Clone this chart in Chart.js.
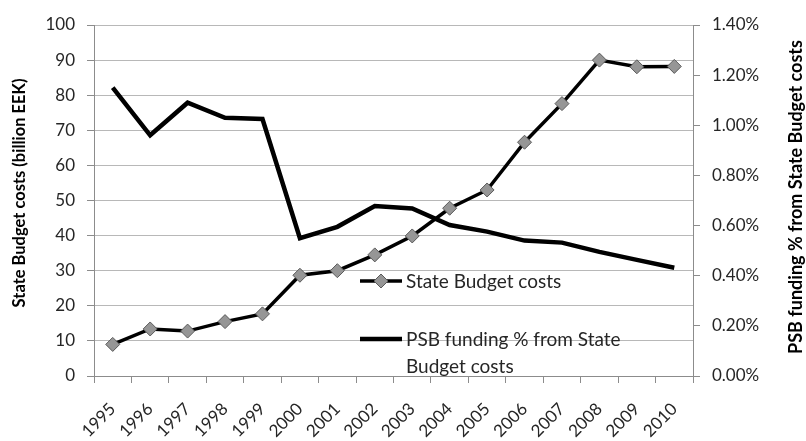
<!DOCTYPE html>
<html>
<head>
<meta charset="utf-8">
<script src="https://cdn.jsdelivr.net/npm/chart.js@4.4.1/dist/chart.umd.min.js"></script>
<style>
  html, body { margin: 0; padding: 0; background: #fff; }
  #wrap { width: 806px; height: 441px; }
</style>
</head>
<body>
<div id="wrap"><canvas id="chart" width="806" height="441"></canvas></div>
<script>
// data
const years = ["1995", "1996", "1997", "1998", "1999", "2000", "2001", "2002",
               "2003", "2004", "2005", "2006", "2007", "2008", "2009", "2010"];
const budgetCosts = [9.0, 13.4, 12.8, 15.5, 17.7, 28.7, 30.0, 34.5,
                     39.9, 47.8, 53.0, 66.6, 77.6, 90.0, 88.1, 88.2];
const psbShare = [1.15, 0.96, 1.09, 1.03, 1.025, 0.55, 0.595, 0.678,
                  0.668, 0.602, 0.576, 0.540, 0.532, 0.495, 0.463, 0.432];
const leftTicks = { min: 0, max: 100, step: 10 };
const rightTicks = { min: 0, max: 1.4, step: 0.2 };

const FONT = "Lato";
const textCol = "#262626";

// legend + axis titles drawn by hand (wrapped label, bottom-to-top right title)
const legendPlugin = {
  id: "handLegend",
  afterDatasetsDraw(chart) {
    const ctx = chart.ctx;
    ctx.save();
    ctx.font = "19px " + FONT;
    ctx.fillStyle = textCol;
    ctx.textBaseline = "middle";
    ctx.textAlign = "left";

    // State Budget costs
    ctx.strokeStyle = "#000";
    ctx.lineWidth = 3.5;
    ctx.beginPath(); ctx.moveTo(360, 281); ctx.lineTo(402, 281); ctx.stroke();
    ctx.beginPath();
    ctx.moveTo(381, 274); ctx.lineTo(388, 281); ctx.lineTo(381, 288); ctx.lineTo(374, 281);
    ctx.closePath();
    ctx.fillStyle = "#969696"; ctx.fill();
    ctx.lineWidth = 1; ctx.strokeStyle = "#5a5a5a"; ctx.stroke();
    ctx.fillStyle = textCol;
    ctx.fillText("State Budget costs", 406, 282);

    // PSB funding
    ctx.strokeStyle = "#000";
    ctx.lineWidth = 4.5;
    ctx.beginPath(); ctx.moveTo(360, 339); ctx.lineTo(402, 339); ctx.stroke();
    ctx.fillText("PSB funding % from State", 406, 340);
    ctx.fillText("Budget costs", 406, 367);
    ctx.restore();

    // axis titles, both read bottom to top
    ctx.save();
    ctx.fillStyle = "#000";
    ctx.textAlign = "center";
    ctx.textBaseline = "middle";
    ctx.font = "bold 16.5px " + FONT;
    ctx.translate(20, 193);
    ctx.rotate(-Math.PI / 2);
    ctx.fillText("State Budget costs (billion EEK)", 0, 0);
    ctx.restore();

    ctx.save();
    ctx.fillStyle = "#000";
    ctx.textAlign = "center";
    ctx.textBaseline = "middle";
    ctx.font = "bold 18px " + FONT;
    ctx.translate(796, 197);
    ctx.rotate(-Math.PI / 2);
    ctx.fillText("PSB funding % from State Budget costs", 0, 0);
    ctx.restore();
  }
};

const ctx = document.getElementById("chart").getContext("2d");
new Chart(ctx, {
  type: "line",
  data: {
    labels: years,
    datasets: [
      {
        label: "PSB funding % from State Budget costs",
        data: psbShare,
        yAxisID: "y2",
        borderColor: "#000",
        borderWidth: 4.5,
        pointRadius: 0,
        tension: 0,
        fill: false
      },
      {
        label: "State Budget costs",
        data: budgetCosts,
        yAxisID: "y",
        borderColor: "#000",
        borderWidth: 3.5,
        pointStyle: "rectRot",
        pointRadius: 7,
        pointBackgroundColor: "#969696",
        pointBorderColor: "#5a5a5a",
        pointBorderWidth: 1,
        tension: 0,
        fill: false
      }
    ]
  },
  options: {
    responsive: false,
    animation: false,
    layout: { padding: { top: 25, left: 0, right: 0, bottom: 0 } },
    plugins: {
      legend: { display: false },
      tooltip: { enabled: false }
    },
    scales: {
      x: {
        offset: true,
        grid: {
          offset: true,
          drawOnChartArea: false,
          color: "#8c8c8c",
          tickLength: 7
        },
        border: { color: "#8c8c8c", width: 1 },
        ticks: {
          font: { family: FONT, size: 17 },
          color: textCol,
          minRotation: 45,
          maxRotation: 45,
          autoSkip: false,
          padding: 16
        },
        afterFit(scale) { scale.height = 65; }
      },
      y: {
        position: "left",
        min: leftTicks.min,
        max: leftTicks.max,
        ticks: {
          stepSize: leftTicks.step,
          font: { family: FONT, size: 17 },
          color: textCol,
          padding: 12
        },
        grid: {
          color: "#b8b8b8",
          tickColor: "#8c8c8c",
          tickLength: 7
        },
        border: { color: "#8c8c8c", width: 1 },
        afterFit(scale) { scale.width = 94; }
      },
      y2: {
        position: "right",
        min: rightTicks.min,
        max: rightTicks.max,
        ticks: {
          stepSize: rightTicks.step,
          font: { family: FONT, size: 17 },
          color: textCol,
          padding: 12,
          callback: v => v.toFixed(2) + "%"
        },
        grid: {
          drawOnChartArea: false,
          color: "#8c8c8c",
          tickLength: 7
        },
        border: { color: "#8c8c8c", width: 1 },
        afterFit(scale) { scale.width = 113; }
      }
    }
  },
  plugins: [legendPlugin]
});
</script>
</body>
</html>
